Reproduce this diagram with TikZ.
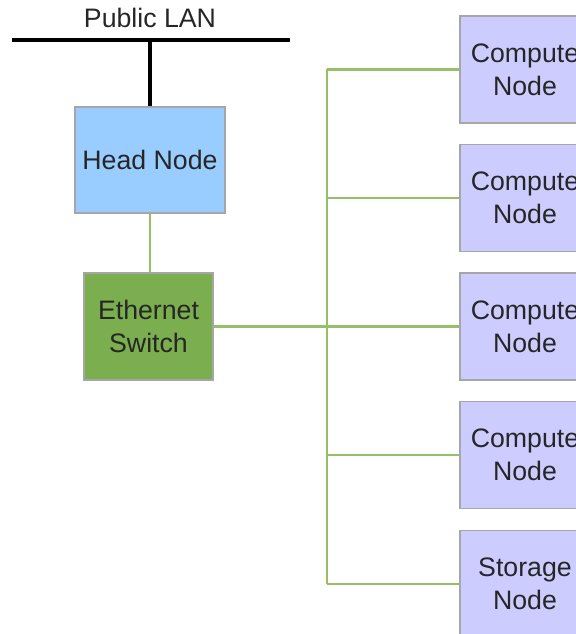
\documentclass[tikz,border=0pt]{standalone}
\usepackage{fontspec}
\setmainfont{Liberation Sans}
\definecolor{headblue}{RGB}{153,204,255}
\definecolor{switchgreen}{RGB}{122,174,78}
\definecolor{nodelilac}{RGB}{204,204,255}
\definecolor{linkgreen}{RGB}{150,192,104}
\begin{document}
\begin{tikzpicture}[x=0.02cm,y=-0.02cm,
		box/.style={draw=black!35,line width=0.6pt,align=center,inner sep=0pt,
			text=black!85,font=\fontsize{15.2}{18.8}\selectfont},
		headbox/.style={box,fill=headblue,minimum width=3cm,minimum height=2.12cm},
		switchbox/.style={box,fill=switchgreen,minimum width=2.58cm,minimum height=2.14cm},
		hostbox/.style={box,fill=nodelilac,minimum width=2.6cm,minimum height=2.14cm},
		lanline/.style={line width=2.2pt},
		link/.style={draw=linkgreen,line width=1.4pt}]
		\useasboundingbox (0,0) rectangle (575,634);
		% public lan
		\node [text=black!85,font=\fontsize{15.2}{18}\selectfont] (lan) at (150,18) {Public LAN};
		\coordinate (lanw) at (12,40);
		\coordinate (lane) at (290,40);
		\draw[lanline] (lanw) -- (lane);
		% head node and switch
		\node [headbox] (head) at (150,160) {Head Node};
		\node [switchbox] (switch) at (148.5,326.5) {Ethernet\\Switch};
		\draw[lanline] (head.north |- lanw) -- (head.north);
		\draw[link] (head.south) -- (head.south |- switch.north);
		% cluster nodes
		\node [hostbox] (c1) at (525,69.5) {Compute\\Node};
		\node [hostbox] (c2) at (525,198) {Compute\\Node};
		\node [hostbox] (c3) at (525,326.5) {Compute\\Node};
		\node [hostbox] (c4) at (525,455) {Compute\\Node};
		\node [hostbox] (st) at (525,584) {Storage\\Node};
		% private network
		\coordinate (bus) at (327,0);
		\draw[link] (bus |- c1.west) -- (bus |- st.west);
		\draw[link] (switch.east) -- (bus |- switch.east);
		\foreach \n in {c1,c2,c3,c4,st}
		\draw[link] (bus |- \n.west) -- (\n.west);
	\end{tikzpicture}
\end{document}
